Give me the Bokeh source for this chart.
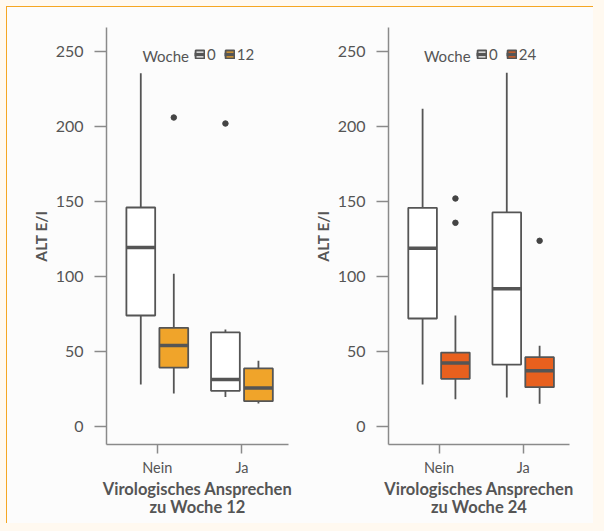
from bokeh.plotting import figure
from bokeh.layouts import row
from bokeh.models import (ColumnDataSource, Range1d, FixedTicker, Legend, LegendItem,
                          GlobalInlineStyleSheet, Label)
from bokeh.embed import file_html
from bokeh.resources import INLINE

# ---------------- data ----------------
categories = ["Nein", "Ja"]
y_ticks = [0, 50, 100, 150, 200, 250]

# Panel 1: response at week 12
p1_weeks = ["0", "12"]
p1_w0_low = [28, 19.6]
p1_w0_q1 = [74, 23.8]
p1_w0_med = [119.3, 31.3]
p1_w0_q3 = [146, 62.7]
p1_w0_high = [235.5, 64.7]
p1_w0_out_cat = ["Ja"]
p1_w0_out_val = [202]

p1_w1_low = [22, 15.3]
p1_w1_q1 = [39.3, 16.9]
p1_w1_med = [54, 25.6]
p1_w1_q3 = [65.8, 38.7]
p1_w1_high = [101.8, 43.8]
p1_w1_out_cat = ["Nein"]
p1_w1_out_val = [206]

# Panel 2: response at week 24
p2_weeks = ["0", "24"]
p2_w0_low = [28, 19.3]
p2_w0_q1 = [72, 41.3]
p2_w0_med = [118.9, 91.8]
p2_w0_q3 = [145.8, 142.7]
p2_w0_high = [211.8, 235.8]
p2_w0_out_cat = []
p2_w0_out_val = []

p2_w1_low = [18.2, 15.1]
p2_w1_q1 = [31.8, 26.2]
p2_w1_med = [42.4, 37.1]
p2_w1_q3 = [49.3, 46.2]
p2_w1_high = [74, 53.8]
p2_w1_out_cat = ["Nein", "Nein", "Ja"]
p2_w1_out_val = [152, 135.8, 123.8]

# ---------------- style ----------------
FONT = "Lato"
TXT = "#555555"
AX = "#8a8a8a"
BOX_LINE = "#555555"
BG = "#fcfcfc"
ORANGE12 = "#f0a42a"
ORANGE24 = "#e8601e"
BOX_W = 0.34
DODGE = 0.195


def box_group(p, offset, low, q1, med, q3, high, out_cat, out_val, fill):
    xs = [categories.index(c) + 1 + offset for c in categories]
    src = ColumnDataSource(dict(x=xs, low=low, q1=q1, med=med, q3=q3, high=high,
                                x0=[x - BOX_W / 2 for x in xs],
                                x1=[x + BOX_W / 2 for x in xs]))
    p.segment(x0="x", y0="q3", x1="x", y1="high", source=src,
              line_color=BOX_LINE, line_width=1.8)
    p.segment(x0="x", y0="low", x1="x", y1="q1", source=src,
              line_color=BOX_LINE, line_width=1.8)
    box = p.vbar(x="x", width=BOX_W, bottom="q1", top="q3", source=src,
                 fill_color=fill, line_color=BOX_LINE, line_width=1.8)
    medr = p.segment(x0="x0", y0="med", x1="x1", y1="med", source=src,
                     line_color=BOX_LINE, line_width=3.5)
    if out_val:
        ox = [categories.index(c) + 1 + offset for c in out_cat]
        p.scatter(ox, out_val, size=5.5, fill_color="#444444", line_color="#444444")
    return [box, medr]


def panel(week_label, weeks, g0, g1, color, width, mbl, mbr):
    p = figure(width=width, height=516, output_backend="svg", toolbar_location=None,
               x_range=Range1d(0.4, 2.55), y_range=Range1d(-12, 266),
               min_border_left=mbl, min_border_right=mbr,
               min_border_top=20, min_border_bottom=79,
               background_fill_color=BG, border_fill_color=BG)
    p.outline_line_color = None
    p.grid.visible = False

    r0 = box_group(p, -DODGE, *g0, "white")
    r1 = box_group(p, DODGE, *g1, color)

    # axes
    for ax in (p.xaxis[0], p.yaxis[0]):
        ax.axis_line_color = AX
        ax.axis_line_width = 1.5
        ax.major_tick_line_color = AX
        ax.major_tick_line_width = 1.5
        ax.minor_tick_line_color = None
        ax.major_tick_in = 0
        ax.major_label_text_font = FONT
        ax.major_label_text_color = TXT
        ax.axis_label_text_font = FONT
        ax.axis_label_text_font_style = "bold"
        ax.axis_label_text_color = TXT
    p.xaxis.ticker = FixedTicker(ticks=[i + 1 for i in range(len(categories))])
    p.xaxis.major_label_overrides = {i + 1: c for i, c in enumerate(categories)}
    p.xaxis.major_label_text_font_size = "14.5px"
    p.xaxis.major_tick_out = 9
    p.xaxis.major_label_standoff = 5
    p.xaxis.axis_label = "Virologisches Ansprechen\nzu Woche " + week_label
    p.xaxis.axis_label_text_font_size = "16.5px"
    p.xaxis.axis_label_text_line_height = 0.92
    p.xaxis.axis_label_standoff = 0
    p.yaxis.ticker = FixedTicker(ticks=y_ticks)
    p.yaxis.major_label_text_font_size = "16px"
    p.yaxis.major_tick_out = 12
    p.yaxis.major_label_standoff = 11
    p.yaxis.axis_label = "ALT E/I"
    p.yaxis.axis_label_text_font_size = "15.5px"
    p.yaxis.axis_label_standoff = 3

    legend = Legend(items=[LegendItem(label=weeks[0], renderers=r0),
                           LegendItem(label=weeks[1], renderers=r1)],
                    orientation="horizontal", location=(88, 381),
                    label_text_font=FONT, label_text_font_size="15px",
                    label_text_color=TXT, label_standoff=2, label_width=0,
                    glyph_width=11, glyph_height=10, label_height=16,
                    spacing=8, padding=0, margin=0,
                    border_line_color=None, background_fill_alpha=0)
    p.add_layout(legend, "center")
    p.add_layout(Label(x=1.375, y=247.3, text="Woche", text_align="right",
                       text_baseline="middle", text_font=FONT, text_font_size="15px",
                       text_color=TXT))
    return p


p1 = panel("12", p1_weeks,
           (p1_w0_low, p1_w0_q1, p1_w0_med, p1_w0_q3, p1_w0_high, p1_w0_out_cat, p1_w0_out_val),
           (p1_w1_low, p1_w1_q1, p1_w1_med, p1_w1_q3, p1_w1_high, p1_w1_out_cat, p1_w1_out_val),
           ORANGE12, 294, 99, 13)
p2 = panel("24", p2_weeks,
           (p2_w0_low, p2_w0_q1, p2_w0_med, p2_w0_q3, p2_w0_high, p2_w0_out_cat, p2_w0_out_val),
           (p2_w1_low, p2_w1_q1, p2_w1_med, p2_w1_q3, p2_w1_high, p2_w1_out_cat, p2_w1_out_val),
           ORANGE24, 292, 87, 24)

page_css = GlobalInlineStyleSheet(css="body { margin: 6px; background-color: #fff9f0; }")
layout = row(p1, p2, stylesheets=[page_css],
             styles={"border-left": "1px solid #f5a623", "border-top": "1px solid #f5a623",
                     "background-color": BG})

open("out.html", "w").write(file_html(layout, INLINE))
